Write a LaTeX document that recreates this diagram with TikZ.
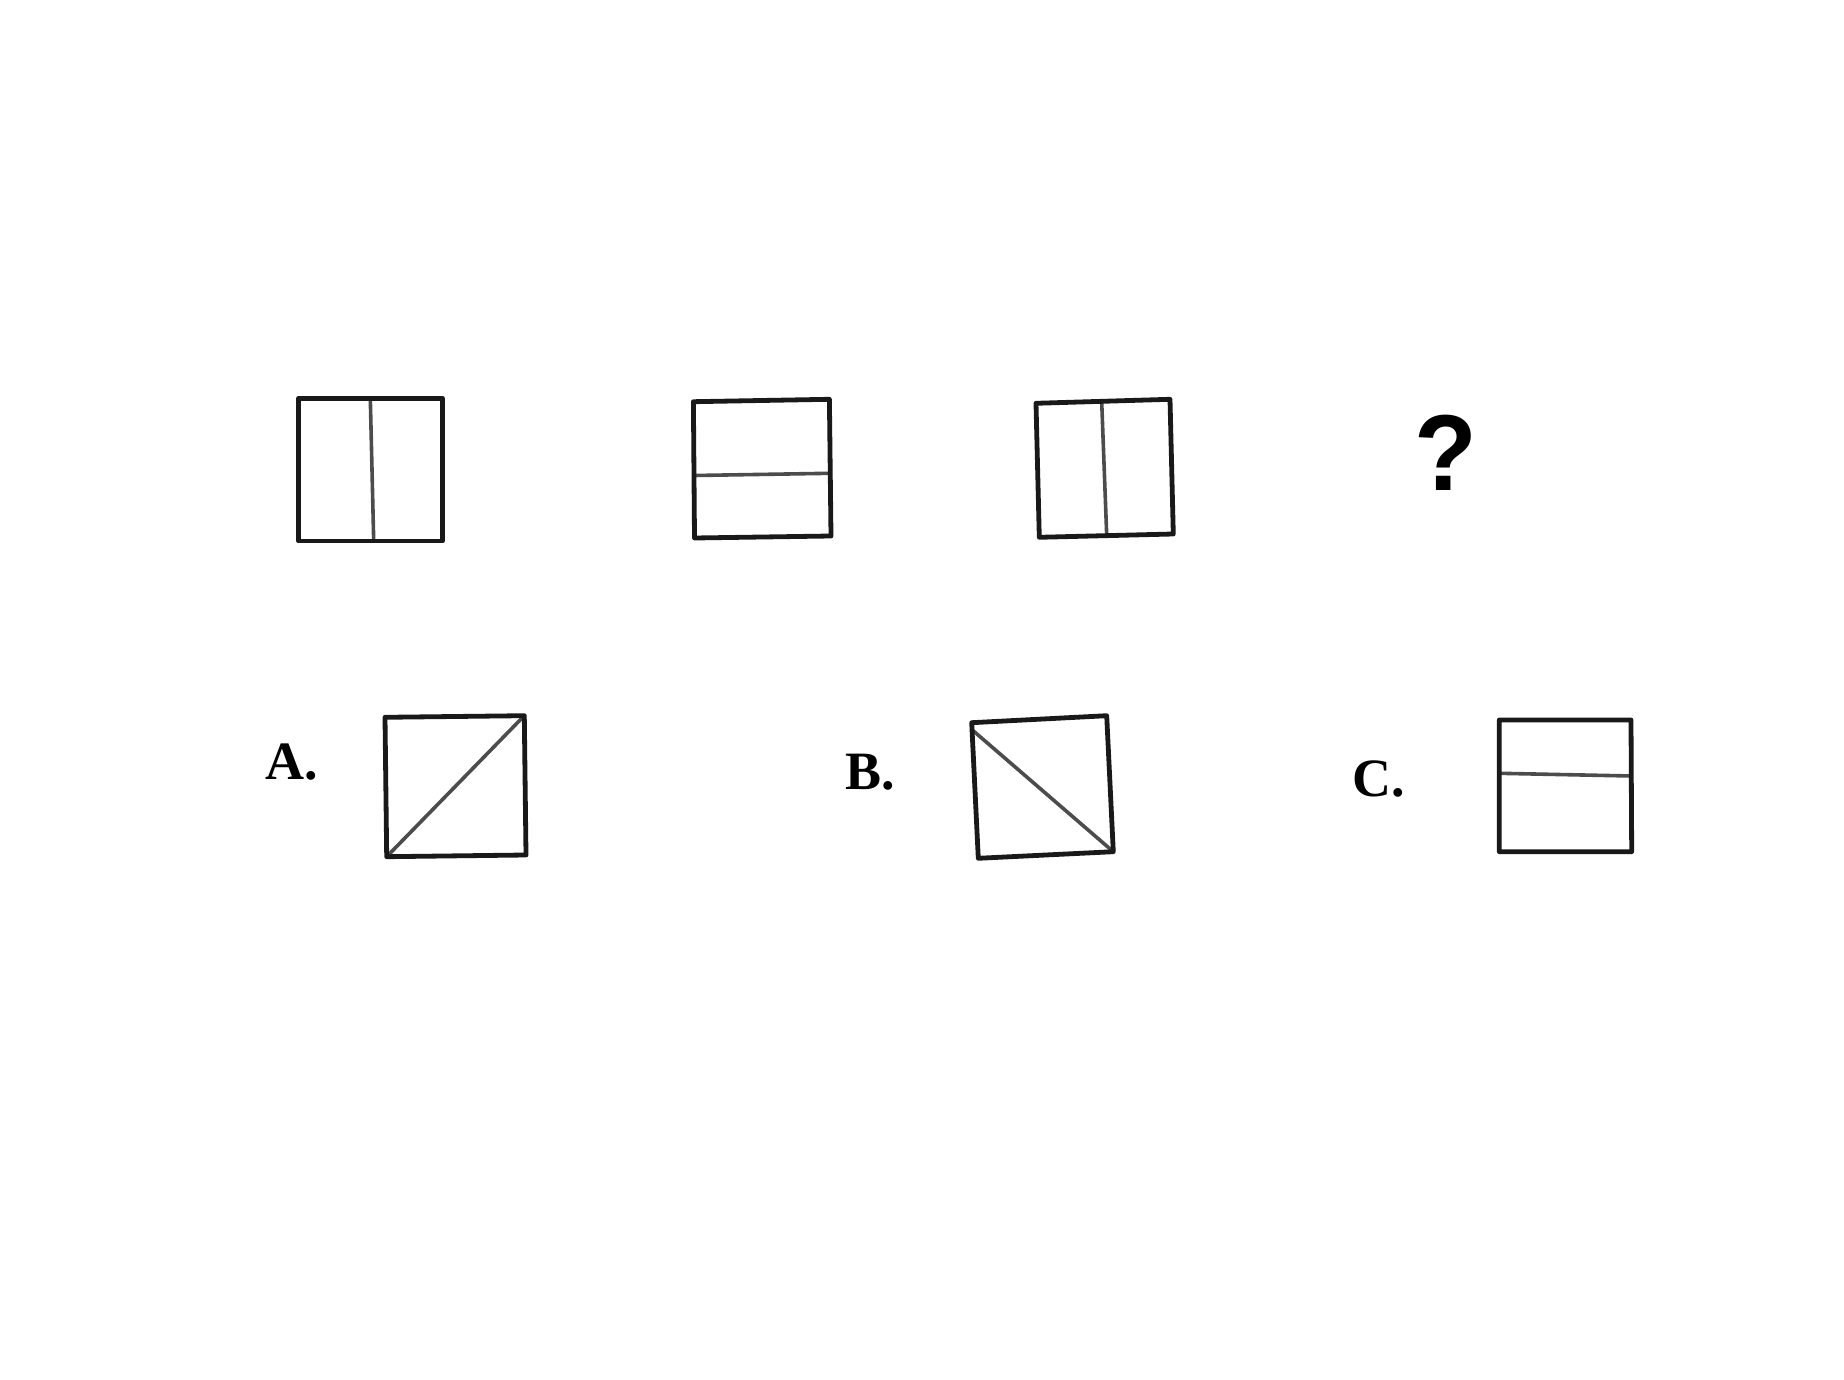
\documentclass[tikz,border=0pt]{standalone}
\usepackage{fontspec}
\setmainfont{Liberation Serif}
\newfontfamily\qfont{Liberation Sans}

\tikzset{
  frame/.style={draw=black!90, line width=2.4pt, line join=round},
  split/.style={draw=black!70, line width=1.8pt},
  choice/.style={font=\bfseries\fontsize{27}{27}\selectfont, inner sep=0pt, anchor=base west}
}

\begin{document}
\begin{tikzpicture}[x=0.5pt,y=-0.5pt]
    \useasboundingbox (0,0) rectangle (1844,1380);
    % sequence
    \coordinate (s1_nw) at (298.6,398.3);
    \coordinate (s1_ne) at (442.5,398.3);
    \coordinate (s1_se) at (442.5,541);
    \coordinate (s1_sw) at (298.6,541);
    \coordinate (s1_t) at (370.3,398.3);
    \coordinate (s1_b) at (373.7,541);
    \coordinate (s2_nw) at (693.4,401.7);
    \coordinate (s2_ne) at (829.4,399.3);
    \coordinate (s2_se) at (831,536);
    \coordinate (s2_sw) at (694.5,538);
    \coordinate (s2_l) at (694.3,475.5);
    \coordinate (s2_r) at (830.2,473.3);
    \coordinate (s3_nw) at (1036,403.3);
    \coordinate (s3_ne) at (1170,399.3);
    \coordinate (s3_se) at (1173.3,534);
    \coordinate (s3_sw) at (1039.3,537.3);
    \coordinate (s3_t) at (1101.7,401.6);
    \coordinate (s3_b) at (1106.7,535.4);
    \node[font=\qfont\bfseries\fontsize{54}{54}\selectfont, inner sep=0pt, anchor=base, xscale=0.95] (q) at (1446,490) {?};
    % choices
    \node[choice] (lbl_A) at (265,779) {A.};
    \node[choice] (lbl_B) at (845,789) {B.};
    \node[choice] (lbl_C) at (1352,796) {C.};
    \coordinate (a_nw) at (385,717.3);
    \coordinate (a_ne) at (524.3,715.7);
    \coordinate (a_se) at (526,855);
    \coordinate (a_sw) at (386.7,856.7);
    \coordinate (b_nw) at (971.7,722.7);
    \coordinate (b_ne) at (1106.7,715.7);
    \coordinate (b_se) at (1113.3,851.7);
    \coordinate (b_sw) at (978.3,858.3);
    \coordinate (b_d) at (972.3,730);
    \coordinate (c_nw) at (1499.3,720);
    \coordinate (c_ne) at (1631,720);
    \coordinate (c_se) at (1631.7,851.7);
    \coordinate (c_sw) at (1499.3,851.7);
    \coordinate (c_l) at (1499.3,773.3);
    \coordinate (c_r) at (1631.4,776);
    \path[split] (s1_t) -- (s1_b)
                 (s2_l) -- (s2_r)
                 (s3_t) -- (s3_b)
                 (a_sw) -- (a_ne)
                 (b_d) -- (b_se)
                 (c_l) -- (c_r);
    \foreach \f in {s1,s2,s3,a,b,c}
      \path[frame] (\f_nw) -- (\f_ne) -- (\f_se) -- (\f_sw) -- cycle;
\end{tikzpicture}
\end{document}
